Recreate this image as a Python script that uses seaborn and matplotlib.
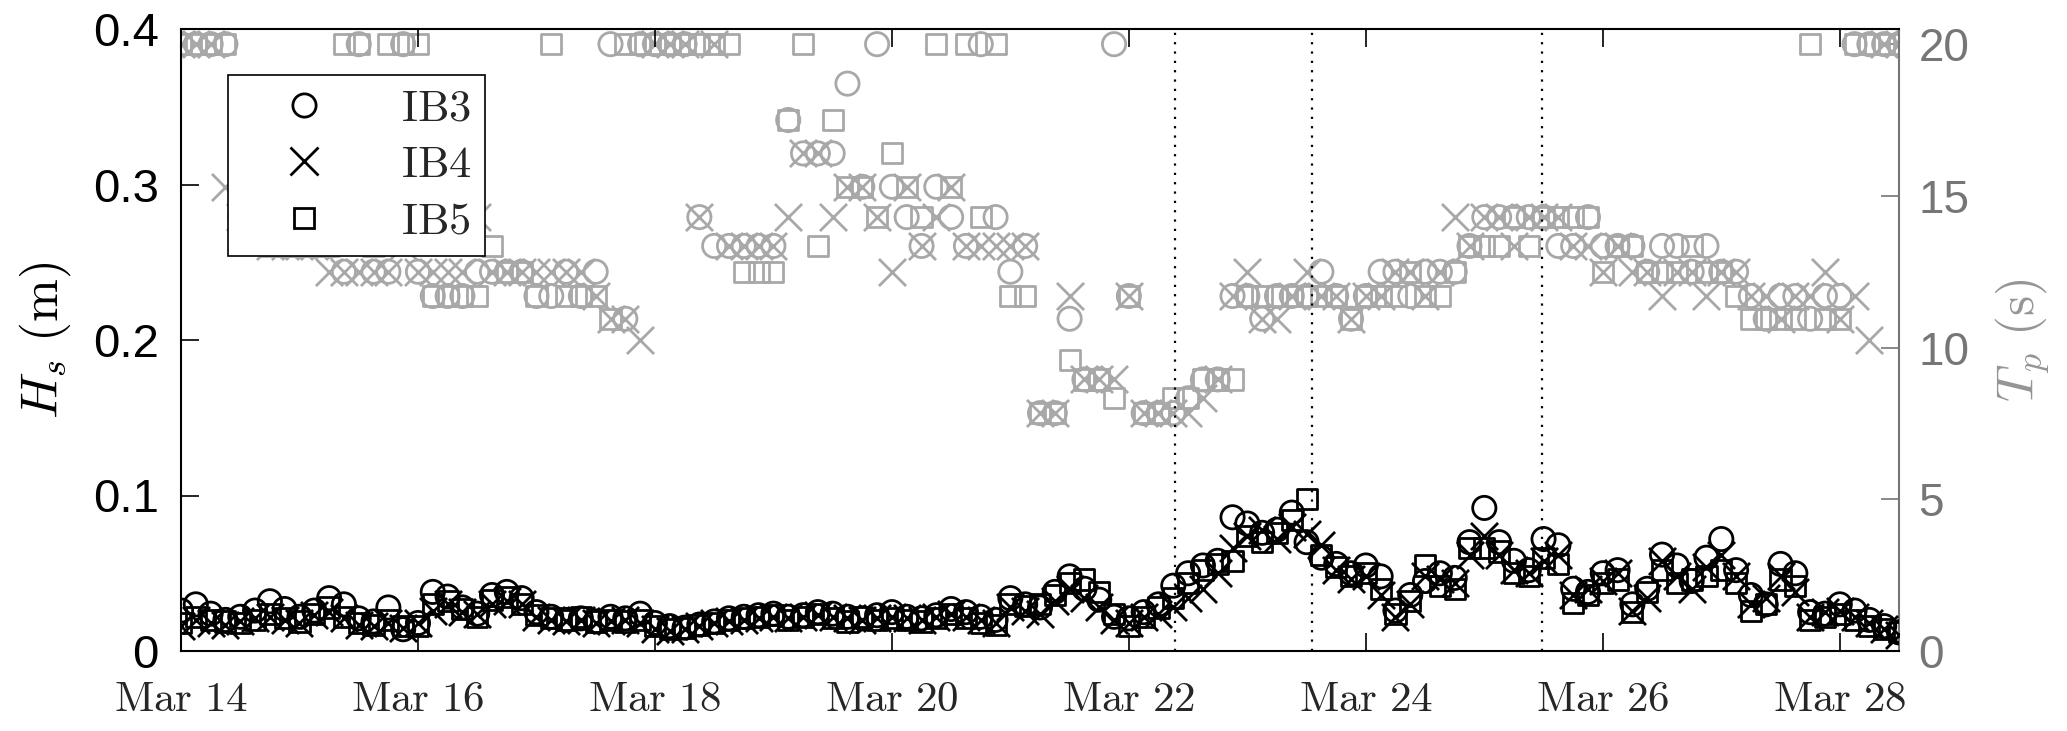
import numpy as np
import pandas as pd
import matplotlib
matplotlib.use("Agg")
import matplotlib.pyplot as plt
import seaborn as sns
from matplotlib.ticker import FuncFormatter
from matplotlib.lines import Line2D

# 3-hourly samples, Mar 14 00:00 -> Mar 28 12:00
times = pd.date_range("2016-03-14 00:00", periods=117, freq="3h")

# significant wave height (m)
hs_ib3 = [0.026, 0.030, 0.024, 0.020, 0.022, 0.026, 0.032, 0.027,
          0.022, 0.026, 0.034, 0.030, 0.021, 0.019, 0.028, 0.014,
          0.018, 0.038, 0.035, 0.028, 0.024, 0.036, 0.038, 0.034,
          0.025, 0.022, 0.020, 0.021, 0.019, 0.022, 0.021, 0.024,
          0.018, 0.016, 0.015, 0.017, 0.019, 0.021, 0.022, 0.023,
          0.024, 0.022, 0.023, 0.025, 0.024, 0.022, 0.021, 0.023,
          0.025, 0.022, 0.021, 0.023, 0.027, 0.025, 0.022, 0.020,
          0.034, 0.030, 0.028, 0.038, 0.048, 0.040, 0.033, 0.022,
          0.021, 0.025, 0.030, 0.042, 0.050, 0.055, 0.058, 0.086,
          0.082, 0.076, 0.078, 0.089, 0.070, 0.060, 0.056, 0.050,
          0.055, 0.048, 0.026, 0.036, 0.045, 0.050, 0.047, 0.070,
          0.092, 0.070, 0.058, 0.052, 0.072, 0.068, 0.040, 0.038,
          0.050, 0.052, 0.030, 0.040, 0.062, 0.055, 0.045, 0.060,
          0.072, 0.052, 0.036, 0.030, 0.056, 0.050, 0.025, 0.024,
          0.030, 0.026, 0.020, 0.016, 0.012]
hs_ib4 = [0.016, 0.020, 0.018, 0.017, 0.019, 0.021, 0.022, 0.020,
          0.018, 0.023, 0.025, 0.021, 0.017, 0.016, 0.018, 0.015,
          0.018, 0.026, 0.030, 0.025, 0.024, 0.030, 0.032, 0.030,
          0.022, 0.020, 0.019, 0.020, 0.018, 0.019, 0.020, 0.018,
          0.014, 0.013, 0.014, 0.016, 0.018, 0.019, 0.020, 0.021,
          0.022, 0.021, 0.022, 0.023, 0.022, 0.021, 0.020, 0.021,
          0.022, 0.021, 0.020, 0.022, 0.024, 0.022, 0.020, 0.018,
          0.028, 0.026, 0.024, 0.032, 0.040, 0.034, 0.028, 0.020,
          0.018, 0.022, 0.024, 0.028, 0.034, 0.040, 0.050, 0.066,
          0.074, 0.078, 0.072, 0.080, 0.075, 0.068, 0.052, 0.046,
          0.048, 0.036, 0.022, 0.030, 0.048, 0.046, 0.044, 0.062,
          0.074, 0.062, 0.052, 0.050, 0.058, 0.062, 0.036, 0.040,
          0.045, 0.050, 0.026, 0.034, 0.058, 0.048, 0.040, 0.054,
          0.062, 0.048, 0.030, 0.034, 0.048, 0.038, 0.022, 0.025,
          0.026, 0.022, 0.018, 0.014, 0.010]
hs_ib5 = [0.018, 0.022, 0.020, 0.019, 0.018, 0.020, 0.024, 0.021,
          0.019, 0.024, 0.028, 0.022, 0.018, 0.017, 0.020, 0.016,
          0.016, 0.030, 0.032, 0.027, 0.022, 0.033, 0.035, 0.030,
          0.023, 0.021, 0.020, 0.022, 0.019, 0.020, 0.019, 0.020,
          0.016, 0.014, 0.015, 0.017, 0.018, 0.020, 0.021, 0.022,
          0.023, 0.020, 0.022, 0.024, 0.021, 0.019, 0.022, 0.020,
          0.021, 0.020, 0.019, 0.021, 0.024, 0.021, 0.018, 0.017,
          0.030, 0.029, 0.030, 0.036, 0.044, 0.046, 0.038, 0.024,
          0.016, 0.022, 0.028, 0.034, 0.044, 0.052, 0.056, 0.058,
          0.074, 0.070, 0.076, 0.084, 0.098, 0.062, 0.054, 0.048,
          0.050, 0.040, 0.024, 0.032, 0.055, 0.042, 0.040, 0.066,
          0.066, 0.064, 0.050, 0.048, 0.060, 0.056, 0.031, 0.036,
          0.044, 0.046, 0.025, 0.038, 0.052, 0.044, 0.046, 0.048,
          0.052, 0.044, 0.026, 0.030, 0.046, 0.042, 0.020, 0.022,
          0.024, 0.020, 0.016, 0.014, 0.012]

# peak period (s)
tp_ib3 = [20, 20, 20, 20, 14.3, 14.3, 14.3, 13.35,
          13.35, 13.35, 13.35, 12.5, 20, 12.5, 12.5, 20,
          12.5, 11.7, 11.7, 11.7, 12.5, 12.5, 12.5, 12.5,
          11.7, 11.7, 12.5, 11.7, 12.5, 20, 10.95, 20,
          20, 20, 20, 14.3, 13.35, 13.35, 13.35, 13.35,
          13.35, 17.5, 16.4, 16.4, 16.4, 18.7, 15.3, 20,
          15.3, 14.3, 13.35, 15.3, 14.3, 13.35, 20, 14.3,
          12.5, 13.35, 7.84, 7.84, 10.95, 8.95, 8.95, 20,
          11.7, 7.84, 7.84, 7.84, 8.33, 8.95, 8.95, 11.7,
          11.7, 10.95, 11.7, 11.7, 11.7, 12.5, 11.7, 10.95,
          11.7, 12.5, 12.5, 11.7, 12.5, 12.5, 12.5, 13.35,
          14.3, 14.3, 14.3, 14.3, 14.3, 13.35, 13.35, 14.3,
          13.35, 13.35, 13.35, 12.5, 13.35, 13.35, 12.5, 13.35,
          12.5, 12.5, 11.7, 10.95, 11.7, 11.7, 10.95, 11.7,
          11.7, 20, 20, 20, 20]
tp_ib4 = [20, 20, 20, 15.3, 14.3, 14.3, 13.35, 13.35,
          13.35, 13.35, 12.5, 12.5, 12.5, 12.5, 12.5, 13.35,
          12.5, 12.5, 12.5, 12.5, 14.3, 12.5, 12.5, 12.5,
          12.5, 12.5, 12.5, 12.5, 11.7, 10.95, 10.95, 10.25,
          20, 20, 20, 14.3, 20, 13.35, 13.35, 13.35,
          13.35, 14.3, 16.4, 16.4, 14.3, 15.3, 15.3, 14.3,
          12.5, 15.3, 13.35, 14.3, 15.3, 13.35, 13.35, 13.35,
          13.35, 13.35, 7.84, 7.84, 11.7, 8.95, 8.95, 8.95,
          11.7, 7.84, 7.84, 7.84, 7.84, 8.33, 8.95, 11.7,
          12.5, 10.95, 10.95, 11.7, 12.5, 11.7, 11.7, 10.95,
          11.7, 11.7, 12.5, 12.5, 11.7, 12.5, 14.3, 13.35,
          14.3, 14.3, 13.35, 14.3, 14.3, 14.3, 13.35, 13.35,
          12.5, 13.35, 12.5, 12.5, 11.7, 12.5, 12.5, 11.7,
          12.5, 12.5, 11.7, 11.7, 10.95, 11.7, 11.7, 12.5,
          10.95, 11.7, 10.25, 20, 20]
tp_ib5 = [20, 20, 20, 20, 14.3, 14.3, 13.35, 13.35,
          13.35, 13.35, 13.35, 20, 20, 13.35, 20, 20,
          20, 11.7, 11.7, 11.7, 11.7, 13.35, 12.5, 12.5,
          11.7, 20, 11.7, 11.7, 11.7, 10.95, 20, 20,
          20, 20, 20, 20, 20, 20, 12.5, 12.5,
          12.5, 17.5, 20, 13.35, 17.5, 15.3, 15.3, 14.3,
          16.4, 15.3, 14.3, 20, 15.3, 20, 14.3, 20,
          11.7, 11.7, 7.84, 7.84, 9.6, 8.95, 8.95, 8.33,
          11.7, 7.84, 7.84, 8.33, 8.33, 8.95, 8.95, 8.95,
          11.7, 11.7, 11.7, 11.7, 11.7, 11.7, 11.7, 10.95,
          11.7, 11.7, 11.7, 12.5, 11.7, 11.7, 12.5, 13.35,
          13.35, 13.35, 14.3, 13.35, 14.3, 14.3, 14.3, 14.3,
          12.5, 13.35, 13.35, 12.5, 12.5, 12.5, 13.35, 12.5,
          12.5, 11.7, 10.95, 10.95, 10.95, 10.95, 20, 10.95,
          10.95, 20, 20, 20, 20]

buoys = ["IB3", "IB4", "IB5"]
markers = {"IB3": "o", "IB4": "x", "IB5": "s"}
sizes = {"IB3": 280, "IB4": 380, "IB5": 210}
event_times = ["2016-03-22 09:20", "2016-03-23 13:00", "2016-03-25 11:45"]

hs = {"IB3": hs_ib3, "IB4": hs_ib4, "IB5": hs_ib5}
tp = {"IB3": tp_ib3, "IB4": tp_ib4, "IB5": tp_ib5}

sns.set_style("ticks")
plt.rcParams["font.family"] = ["Liberation Sans", "DejaVu Sans"]
plt.rcParams["mathtext.fontset"] = "cm"

GRAY_MK = "#a8a8a8"
GRAY_AX = "#767676"
MK_LW = 2.0

fig = plt.figure(figsize=(20.67, 7.31), dpi=100)
# axes box: x 181..1899 px, y 29..651 px
ax = fig.add_axes([181 / 2067, 1 - 651 / 731, 1718 / 2067, 622 / 731])
ax2 = ax.twinx()


def draw(axis, values, color):
    for b in buoys:
        d = pd.DataFrame({"time": times, "val": values[b]})
        m = markers[b]
        if m == "x":
            sns.scatterplot(data=d, x="time", y="val", ax=axis, marker=m,
                            s=sizes[b], color=color, edgecolor=None,
                            linewidth=MK_LW, legend=False)
        else:
            sns.scatterplot(data=d, x="time", y="val", ax=axis, marker=m,
                            s=sizes[b], facecolor="none", edgecolor=color,
                            linewidth=MK_LW, legend=False)


draw(ax2, tp, GRAY_MK)
draw(ax, hs, "black")

for et in event_times:
    ax.axvline(pd.Timestamp(et), color="black", lw=1.6,
               linestyle=(0, (1.0, 3.2)), zorder=1)

# Hs axes (and its legend) drawn above the Tp axes
ax.set_zorder(ax2.get_zorder() + 1)
ax.patch.set_visible(False)

ax.set_xlim(pd.Timestamp("2016-03-14 00:00"), pd.Timestamp("2016-03-28 12:00"))
ax.set_ylim(0, 0.4)
ax2.set_ylim(0, 20.5)
ax.set_yticks([0, 0.1, 0.2, 0.3, 0.4])
ax.set_yticklabels(["0", "0.1", "0.2", "0.3", "0.4"])
ax2.set_yticks([0, 5, 10, 15, 20])

xt = pd.date_range("2016-03-14", "2016-03-28", freq="2D")
ax.set_xticks(xt)
ax.xaxis.set_major_formatter(FuncFormatter(
    lambda v, p: r"$\mathrm{Mar\ %d}$" % matplotlib.dates.num2date(v).day))

ax.tick_params(axis="x", direction="in", length=13, width=1.2,
               labelsize=31, pad=21, top=True, color="black",
               labelcolor="#262626")
ax.tick_params(axis="y", direction="in", length=13, width=1.2,
               labelsize=34, pad=16, right=False, colors="black")
ax2.tick_params(axis="y", direction="in", length=13, width=1.2,
                labelsize=33, pad=14, colors=GRAY_AX)
ax2.tick_params(axis="x", top=False, bottom=False)

for sp in ["left", "top", "bottom"]:
    ax.spines[sp].set_color("black")
    ax.spines[sp].set_linewidth(1.5)
ax.spines["right"].set_visible(False)
for sp in ["left", "top", "bottom"]:
    ax2.spines[sp].set_visible(False)
ax2.spines["right"].set_color(GRAY_AX)
ax2.spines["right"].set_linewidth(1.5)

ax.set_xlabel("")
ax.set_ylabel(r"$H_s\ \mathrm{(m)}$", fontsize=37, color="black")
ax.yaxis.set_label_coords(-0.063, 0.5)
ax2.set_ylabel(r"$T_p\ \mathrm{(s)}$", fontsize=37, color="#959595")
ax2.yaxis.set_label_coords(1.055, 0.5)

handles = [Line2D([], [], linestyle="none", marker=markers[b],
                  markersize=np.sqrt(sizes[b]), markerfacecolor="none",
                  markeredgecolor="black", color="black",
                  markeredgewidth=MK_LW)
           for b in buoys]
leg = ax.legend(handles, [r"$\mathrm{%s}$" % b for b in buoys],
                loc="upper left", bbox_to_anchor=(0.0274, 0.926),
                borderaxespad=0, fontsize=32, frameon=True, fancybox=False,
                framealpha=1, edgecolor="black", handlelength=2.8,
                handletextpad=0.8, labelspacing=0.35, borderpad=0.3)
leg.get_frame().set_linewidth(1.2)

fig.savefig("out.png", dpi=100)
